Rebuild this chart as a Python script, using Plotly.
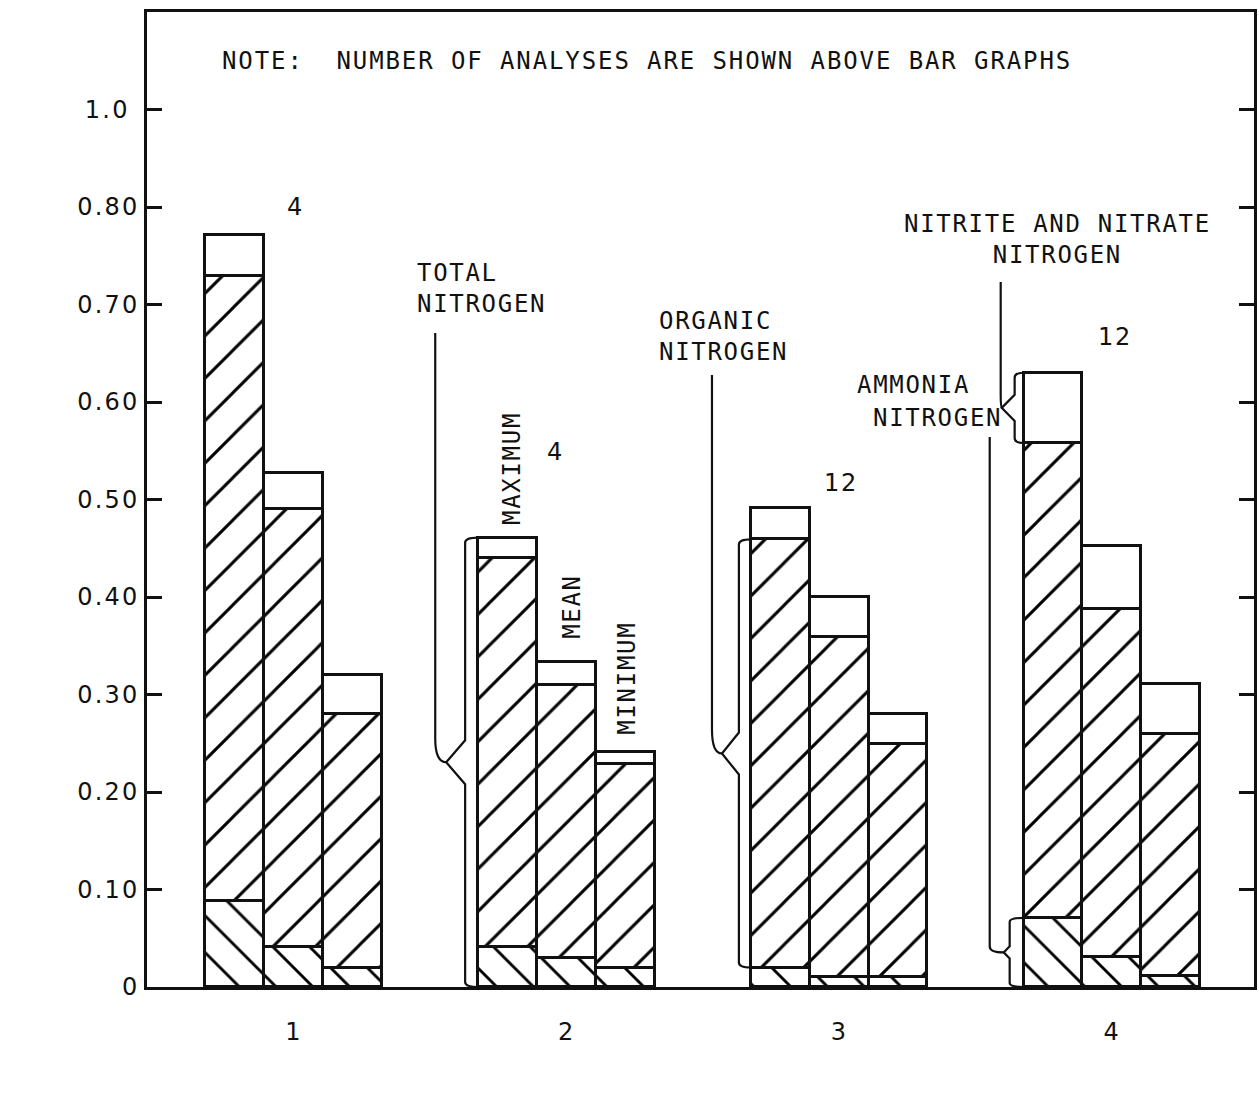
import plotly.graph_objects as go

# ---------------- data ----------------
sites = [1, 2, 3, 4]
site_labels = ["1", "2", "3", "4"]
stats = ["MAXIMUM", "MEAN", "MINIMUM"]
n_analyses = ["4", "4", "12", "12"]

# order: site1 max, mean, min, site2 max, mean, min, ...
ammonia = [0.088, 0.041, 0.020, 0.041, 0.030, 0.020, 0.020, 0.010, 0.010, 0.071, 0.031, 0.011]
organic = [0.641, 0.449, 0.260, 0.399, 0.280, 0.209, 0.439, 0.349, 0.239, 0.487, 0.357, 0.249]
nitrite_nitrate = [0.042, 0.037, 0.040, 0.021, 0.023, 0.012, 0.032, 0.041, 0.031, 0.072, 0.064, 0.051]

y_tickvals = [0.0, 0.1, 0.2, 0.3, 0.4, 0.5, 0.6, 0.7, 0.8, 0.9]
y_ticktext = ["0", "0.10", "0.20", "0.30", "0.40", "0.50", "0.60", "0.70", "0.80", "1.0\u00a0"]

# ---------------- geometry / style ----------------
W, H = 1259, 1109
ML, MR, MT, MB = 147, 2, 12, 122
PW, PH = W - ML - MR, H - MT - MB
SX = 273.5                     # px per site unit
X0 = 0.4625
X1 = X0 + PW / SX
SY = PH                        # px per 1.0 mg/L
BW = 59 / SX                   # bar width
OFFS = [-BW, 0.0, BW]

FONT = "DejaVu Sans Mono"
NUMFONT = "DejaVu Sans"
INK = "#111111"
FS = 24


def t(s, ls=1.7):
    return f'<span style="letter-spacing:{ls}px">' + s + "</span>"


def px_x(px):
    return X0 + (px - ML) / SX


def px_y(py):
    return (H - MB - py) / SY


xs = [s + o for s in sites for o in OFFS]

fig = go.Figure()
line = dict(color=INK, width=2.8)
fig.add_trace(go.Bar(
    x=xs, y=ammonia, width=BW, name="AMMONIA NITROGEN",
    marker=dict(color="white", line=line,
                pattern=dict(shape="\\", fgcolor="#000000", bgcolor="white", fgopacity=1,
                             fillmode="replace", size=26, solidity=0.11)),
))
fig.add_trace(go.Bar(
    x=xs, y=organic, width=BW, name="ORGANIC NITROGEN",
    marker=dict(color="white", line=line,
                pattern=dict(shape="/", fgcolor="#000000", bgcolor="white", fgopacity=1,
                             fillmode="replace", size=30, solidity=0.1)),
))
fig.add_trace(go.Bar(
    x=xs, y=nitrite_nitrate, width=BW, name="NITRITE AND NITRATE NITROGEN",
    marker=dict(color="white", line=line),
))

# ---------------- braces ----------------
def bar_left(site_i, stat_i):
    return sites[site_i] + OFFS[stat_i] - BW / 2


def brace(xl, ylo, yhi, arm, tip, half, curl, lead_dx, lead_top_py, gap):
    ax = xl - arm / SX
    tx = xl - tip / SX
    lx = xl - lead_dx / SX
    ym = (ylo + yhi) / 2
    h = half / SY
    c = curl / SY
    g = gap / SY
    b = (f"M{xl},{yhi} Q{ax},{yhi} {ax},{yhi - c} L{ax},{ym + h} L{tx},{ym} "
         f"L{ax},{ym - h} L{ax},{ylo + c} Q{ax},{ylo} {xl},{ylo}")
    lead = f"M{lx},{px_y(lead_top_py)} L{lx},{ym + g} Q{lx},{ym} {tx},{ym}"
    return [b, lead]


def total(i):
    return ammonia[i] + organic[i] + nitrite_nitrate[i]


paths = []
# total nitrogen: site 2 maximum
paths += brace(bar_left(1, 0), 0.0, total(3), 13, 32, 22, 5, 43, 333, 24)
# organic nitrogen: site 3 maximum
paths += brace(bar_left(2, 0), ammonia[6], ammonia[6] + organic[6], 12, 29, 21, 5, 39, 375, 24)
# ammonia nitrogen: site 4 maximum
paths += brace(bar_left(3, 0), 0.0, ammonia[9], 14, 20, 6, 4, 34, 437, 6)
# nitrite and nitrate nitrogen: site 4 maximum
paths += brace(bar_left(3, 0), ammonia[9] + organic[9], total(9), 9, 22, 13, 5, 23, 282, 13)

shapes = [dict(type="path", path=p, xref="x", yref="y",
               line=dict(color=INK, width=2.2), fillcolor="rgba(0,0,0,0)") for p in paths]

# ---------------- annotations ----------------
ann = []


def add(text, px, py, xanchor="center", angle=0, align="center", size=FS, family=FONT, ls=1.7):
    ann.append(dict(text=t(text, ls), x=px_x(px), y=px_y(py), xref="x", yref="y",
                    showarrow=False, xanchor=xanchor, yanchor="middle", textangle=angle,
                    align=align, font=dict(family=family, size=size, color=INK)))


add("NOTE:\u00a0 NUMBER OF ANALYSES ARE SHOWN ABOVE BAR GRAPHS", 220, 61, xanchor="left", ls=1.9)
add("TOTAL<br>NITROGEN", 416, 288, xanchor="left", align="left")
add("ORGANIC<br>NITROGEN", 658, 336, xanchor="left", align="left")
add("NITRITE AND NITRATE<br>NITROGEN", 1060, 239)
add("AMMONIA", 857, 385, xanchor="left")
add("NITROGEN", 873, 418, xanchor="left")

count_pos = [(296, 207), (557, 452), (843, 483), (1118, 337)]
for n, (cx, cy) in zip(n_analyses, count_pos):
    add(n, cx, cy, family=NUMFONT)

stat_pos = [(513, 469), (573, 606), (628, 678)]
for s, (cx, cy) in zip(stats, stat_pos):
    add(s, cx, cy, angle=-90)

add("NITROGEN SPECIES,", 32, 508, angle=-90)
add("IN MILLIGRAMS PER LITER", 60, 517, angle=-90)
add("SITE NUMBERS", 711, 1092)

fig.update_layout(
    width=W, height=H,
    margin=dict(l=ML, r=MR, t=MT, b=MB),
    paper_bgcolor="white", plot_bgcolor="white",
    barmode="stack", showlegend=False, bargap=0,
    shapes=shapes, annotations=ann,
    font=dict(family=FONT, size=FS, color=INK),
)
fig.update_xaxes(
    range=[X0, X1], showline=True, linewidth=2.5, linecolor=INK, mirror=True,
    ticks="", showgrid=False, zeroline=False,
    tickvals=sites, ticktext=[t(s) for s in site_labels],
    tickfont=dict(family=NUMFONT, size=FS, color=INK), ticklabelstandoff=21,
)
fig.update_yaxes(
    range=[0, 1.0], showline=True, linewidth=2.5, linecolor=INK, mirror="ticks",
    ticks="inside", ticklen=15, tickwidth=2.5, tickcolor=INK,
    showgrid=False, zeroline=False,
    tickvals=y_tickvals, ticktext=[t(s, 2.2) for s in y_ticktext],
    tickfont=dict(family=NUMFONT, size=FS, color=INK), ticklabelstandoff=0,
)

fig.write_html("out.html")
